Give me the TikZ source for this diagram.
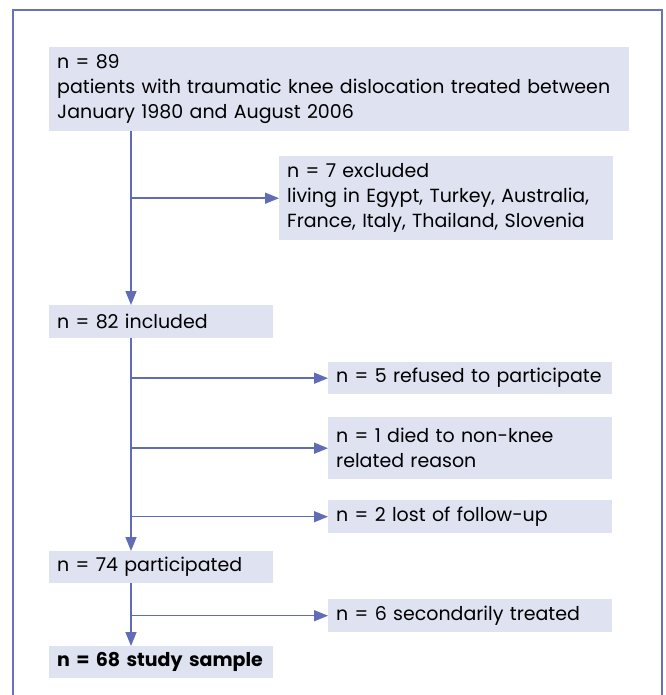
\documentclass[tikz,border=0pt]{standalone}
\usepackage{fontspec}
\setmainfont{Poppins}[Ligatures={TeX,NoCommon}]
\usetikzlibrary{arrows.meta}
\definecolor{cadre}{RGB}{104,114,184}
\definecolor{fleche}{RGB}{96,108,182}
\definecolor{fond}{RGB}{223,226,240}
\tikzset{
	boite/.style={fill=fond,anchor=north west,inner xsep=8pt,inner ysep=0pt,
		align=left,font=\fontsize{19}{25}\selectfont},
	fl/.style={draw=fleche,line width=1.5pt,-{Triangle[length=14pt,width=11pt]}}
}
\begin{document}
\begin{tikzpicture}[x=1pt,y=-1pt]
%					Cadre :
					\useasboundingbox (0,0) rectangle (665,695);
					\draw[cadre,line width=2pt] (13,10) rectangle (662,710);
					\coordinate (axe) at (131,0);
%					Colonne principale :
					\node[boite,minimum width=580pt,minimum height=84pt,text width=564pt] (total) at (49,47)
						{n = 89\\patients with traumatic knee dislocation treated between\\January 1980 and August 2006};
					\node[boite,minimum width=224pt,minimum height=33pt,text width=208pt] (inclus) at (49,305) {n = 82 included};
					\node[boite,minimum width=224pt,minimum height=32pt,text width=208pt] (particip) at (49,551) {n = 74 participated};
					\node[boite,minimum width=224pt,minimum height=32pt,text width=208pt,font=\fontsize{19}{25}\selectfont\bfseries] (etude) at (49,646) {n = 68 study sample};
%					Colonne des sorties :
					\node[boite,minimum width=334pt,minimum height=84pt,text width=318pt] (exclus) at (279,156)
						{n = 7 excluded\\living in Egypt, Turkey, Australia,\\France, Italy, Thailand, Slovenia};
					\node[boite,minimum width=284pt,minimum height=32pt,text width=268pt] (refus) at (328,362) {n = 5 refused to participate};
					\node[boite,minimum width=284pt,minimum height=62pt,text width=268pt] (deces) at (328,417) {n = 1 died to non-knee\\related reason};
					\node[boite,minimum width=284pt,minimum height=33pt,text width=268pt] (perdu) at (328,500) {n = 2 lost of follow-up};
					\node[boite,minimum width=284pt,minimum height=33pt,text width=268pt] (second) at (328,599) {n = 6 secondarily treated};
%					Flèches :
					\draw[fl] (total.south -| axe) -- (inclus.north -| axe);
					\draw[fl] (inclus.south -| axe) -- (particip.north -| axe);
					\draw[fl] (particip.south -| axe) -- (etude.north -| axe);
					\draw[fl] (exclus.west -| axe) -- (exclus.west);
					\draw[fl] (refus.west -| axe) -- (refus.west);
					\draw[fl] (deces.west -| axe) -- (deces.west);
					\draw[fl] (perdu.west -| axe) -- (perdu.west);
					\draw[fl] (second.west -| axe) -- (second.west);
\end{tikzpicture}
\end{document}
